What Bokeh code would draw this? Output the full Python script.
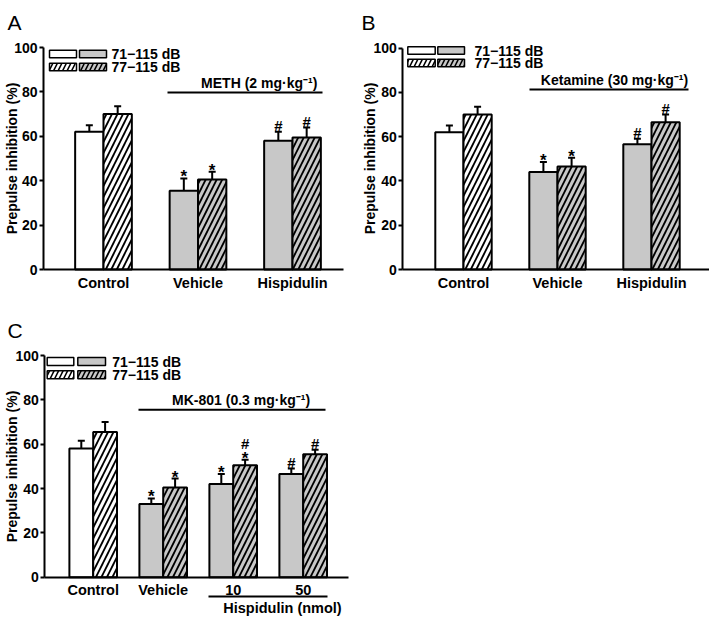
import math
from bokeh.plotting import figure
from bokeh.models import Range1d, FixedTicker, ColumnDataSource, Whisker, TeeHead
from bokeh.layouts import column, row
from bokeh.embed import file_html
from bokeh.resources import INLINE
from bokeh.core.properties import value

FONT = "Liberation Sans"
GRAY = "#c8c8c8"

# ---------------- data ----------------
series_labels = ["71\u2212115 dB", "77\u2212115 dB"]
y_ticks = [0, 20, 40, 60, 80, 100]
y_title = "Prepulse inhibition (%)"

a_groups = ["Control", "Vehicle", "Hispidulin"]
a_71 = [62, 35.5, 58]
a_71_err = [3, 5.5, 4]
a_77 = [70, 40.5, 59.5]
a_77_err = [3.5, 3.5, 4.5]
a_71_sig = ["", "*", "#"]
a_77_sig = ["", "*", "#"]
a_treat = "METH (2 mg\u00b7kg\u207b\u00b9)"

b_groups = ["Control", "Vehicle", "Hispidulin"]
b_71 = [62, 44, 56.5]
b_71_err = [3, 4.5, 2.5]
b_77 = [70, 46.5, 66.5]
b_77_err = [3.5, 4, 3.5]
b_71_sig = ["", "*", "#"]
b_77_sig = ["", "*", "#"]
b_treat = "Ketamine (30 mg\u00b7kg\u207b\u00b9)"

c_groups = ["Control", "Vehicle", "10", "50"]
c_71 = [58, 33, 42, 46.5]
c_71_err = [3.5, 2.5, 4.5, 2.5]
c_77 = [65.5, 40.5, 50.5, 55.5]
c_77_err = [4.5, 4, 2.5, 2]
c_71_sig = ["", "*", "*", "#"]
c_77_sig = ["", "*", "*#", "#"]
c_treat = "MK-801 (0.3  mg\u00b7kg\u207b\u00b9)"
c_dose_title = "Hispidulin (nmol)"

# ---------------- layout (canvas pixel positions) ----------------
cfg_a = dict(letter="A", width=354, height=310, axis_x=43, axis_right=343, y0=269,
             y100=47, first_center=103, ppu_x=94.5, bw=0.30,
             letter_pos=(7, 22), ytitle_pos=(11, 158),
             legend=dict(boxes=[(49, 76), (79, 106)], rows=[53.5, 66.5], h=7.5, tx=111),
             treat=dict(x0=167, x1=322, y=92, tx=258.7))
cfg_b = dict(letter="B", width=355, height=310, axis_x=48.3, axis_right=355, y0=269,
             y100=47.5, first_center=109, ppu_x=94, bw=0.30,
             letter_pos=(7, 22), ytitle_pos=(15.5, 158),
             legend=dict(boxes=[(53.3, 80.7), (83.3, 110)], rows=[50, 62.5], h=7.5, tx=120),
             treat=dict(x0=175, x1=334, y=89, tx=260))
cfg_c = dict(letter="C", width=354, height=307, axis_x=44.3, axis_right=348, y0=266.7,
             y100=45, first_center=92.7, ppu_x=70, bw=0.34,
             letter_pos=(7, 20), ytitle_pos=(11, 156),
             legend=dict(boxes=[(46.7, 73.3), (77.3, 105)], rows=[51, 64.3], h=8, tx=111.7),
             treat=dict(x0=138, x1=325, y=99.3, tx=242.5),
             dose=dict(x0=208, x1=327, y=286, tx=282, ty=297))

LABEL_SIZE = "14.5px"


def bold(size, **extra):
    d = dict(text_font=value(FONT), text_font_style="bold", text_color="black",
             text_font_size=size)
    d.update(extra)
    return d


def add_series(p, n, vals, errs, sigs, offset, bw, hatched):
    xs = [i + offset for i in range(n)]
    fills = ["white"] + [GRAY] * (n - 1)
    uppers = [v + e for v, e in zip(vals, errs)]
    src = ColumnDataSource(dict(x=xs, top=vals, upper=uppers, fill=fills))
    kw = {}
    if hatched:
        kw = dict(hatch_pattern="/", hatch_scale=11, hatch_weight=1.8, hatch_color="black")
    p.vbar(x="x", top="top", bottom=0, width=bw, source=src, fill_color="fill",
           line_color="black", line_width=2, **kw)
    p.add_layout(Whisker(source=src, base="x", lower="top", upper="upper",
                         dimension="height", line_width=2, line_color="black",
                         upper_head=TeeHead(size=7, line_width=2, line_color="black"),
                         lower_head=None))
    stars_x, stars_y, hash_x, hash_y, hash_o = [], [], [], [], []
    for x, u, s in zip(xs, uppers, sigs):
        if "*" in s:
            stars_x.append(x)
            stars_y.append(u)
        if "#" in s:
            hash_x.append(x)
            hash_y.append(u)
            hash_o.append(-16.0 if "*" in s else -6.0)
    if stars_x:
        p.text(x=stars_x, y=stars_y, text=["*"] * len(stars_x), y_offset=-1.5,
               text_align="center", text_baseline="alphabetic", **bold("17px"))
    if hash_x:
        p.text(x=hash_x, y=hash_y, text=["#"] * len(hash_x), y_offset=hash_o,
               text_align="center", text_baseline="alphabetic", **bold("15px"))


def make_panel(cfg, groups, v71, e71, s71, v77, e77, s77, treat, dose_title=None):
    W, H = cfg["width"], cfg["height"]
    ppx = cfg["ppu_x"]
    ppy = (cfg["y0"] - cfg["y100"]) / 100.0
    fc = cfg["first_center"]
    dx = lambda px: (px - fc) / ppx
    dy = lambda py: (cfg["y0"] - py) / ppy

    p = figure(width=W, height=H, x_range=Range1d(dx(0), dx(W)),
               y_range=Range1d(dy(H), dy(0)), output_backend="svg",
               toolbar_location=None, min_border_left=0, min_border_right=0,
               min_border_top=0, min_border_bottom=0, outline_line_color=None,
               background_fill_color="white", border_fill_color="white")
    p.xgrid.visible = False
    p.ygrid.visible = False

    n = len(groups)
    bw = cfg["bw"]
    add_series(p, n, v71, e71, s71, -bw / 2, bw, False)
    add_series(p, n, v77, e77, s77, bw / 2, bw, True)

    ax_x = dx(cfg["axis_x"])
    # y axis (fixed at the left end of the x axis)
    ya = p.yaxis[0]
    ya.fixed_location = ax_x
    ya.ticker = FixedTicker(ticks=y_ticks)
    ya.bounds = (0, 100)
    ya.axis_line_width = 2
    ya.axis_line_color = "black"
    ya.major_tick_line_width = 2
    ya.major_tick_line_color = "black"
    ya.major_tick_out = 4
    ya.major_tick_in = 0
    ya.minor_tick_line_color = None
    ya.major_label_standoff = 2
    ya.major_label_text_font = FONT
    ya.major_label_text_font_size = "14px"
    ya.major_label_text_font_style = "bold"
    ya.major_label_text_color = "black"

    # x axis
    xa = p.xaxis[0]
    xa.fixed_location = 0
    xa.bounds = (ax_x, dx(cfg["axis_right"]))
    xa.ticker = FixedTicker(ticks=list(range(n)))
    xa.major_label_overrides = {i: g for i, g in enumerate(groups)}
    xa.major_tick_line_color = None
    xa.major_tick_out = 0
    xa.major_tick_in = 0
    xa.minor_tick_line_color = None
    xa.axis_line_width = 2
    xa.axis_line_color = "black"
    xa.major_label_standoff = 5
    xa.major_label_text_font = FONT
    xa.major_label_text_font_size = LABEL_SIZE
    xa.major_label_text_font_style = "bold"
    xa.major_label_text_color = "black"

    # y title and panel letter
    tx, ty = cfg["ytitle_pos"]
    p.text(x=[dx(tx)], y=[dy(ty)], text=[y_title], angle=math.pi / 2,
           text_align="center", text_baseline="middle", **bold("14px"))
    lx, ly = cfg["letter_pos"]
    p.text(x=[dx(lx)], y=[dy(ly)], text=[cfg["letter"]], text_align="left",
           text_baseline="alphabetic", text_font=value(FONT), text_font_size="21px",
           text_color="black")

    # legend
    lg = cfg["legend"]
    for r, hatched in enumerate([False, True]):
        for c, fill in enumerate(["white", GRAY]):
            a, b = lg["boxes"][c]
            kw = {}
            if hatched:
                kw = dict(hatch_pattern="/", hatch_scale=9, hatch_weight=1.6,
                          hatch_color="black")
            p.rect(x=[dx((a + b) / 2)], y=[dy(lg["rows"][r])], width=b - a,
                   height=lg["h"], width_units="screen", height_units="screen",
                   fill_color=fill, line_color="black", line_width=1.5, **kw)
    p.text(x=[dx(lg["tx"])] * 2, y=[dy(lg["rows"][0]), dy(lg["rows"][1])],
           text=series_labels, text_align="left", text_baseline="middle",
           **bold("14px"))

    # treatment bar
    t = cfg["treat"]
    p.segment(x0=[dx(t["x0"])], y0=[dy(t["y"])], x1=[dx(t["x1"])], y1=[dy(t["y"])],
              line_color="black", line_width=2)
    p.text(x=[dx(t["tx"])], y=[dy(t["y"])], text=[treat], y_offset=-2,
           text_align="center", text_baseline="bottom", **bold("14px"))

    if dose_title is not None:
        d = cfg["dose"]
        p.segment(x0=[dx(d["x0"])], y0=[dy(d["y"])], x1=[dx(d["x1"])], y1=[dy(d["y"])],
                  line_color="black", line_width=2)
        p.text(x=[dx(d["tx"])], y=[dy(d["ty"])], text=[dose_title],
               text_align="center", text_baseline="middle", **bold(LABEL_SIZE))
    return p


pa = make_panel(cfg_a, a_groups, a_71, a_71_err, a_71_sig, a_77, a_77_err, a_77_sig, a_treat)
pb = make_panel(cfg_b, b_groups, b_71, b_71_err, b_71_sig, b_77, b_77_err, b_77_sig, b_treat)
pc = make_panel(cfg_c, c_groups, c_71, c_71_err, c_71_sig, c_77, c_77_err, c_77_sig, c_treat,
                dose_title=c_dose_title)

layout = column(row(pa, pb), pc)
open("out.html", "w").write(file_html(layout, INLINE))
